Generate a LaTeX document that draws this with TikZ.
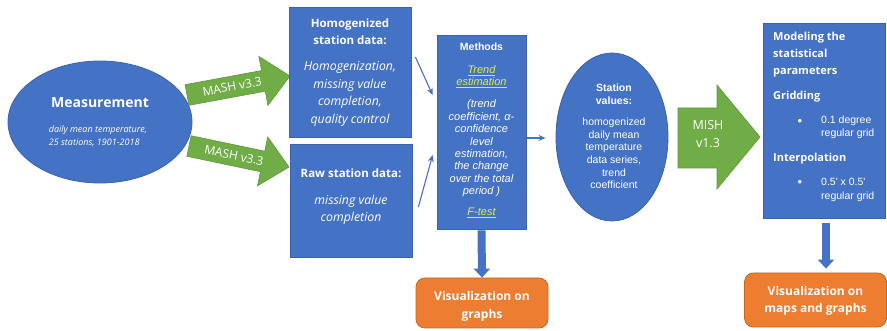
\documentclass[tikz,border=0pt]{standalone}
\usepackage{fontspec}
\setmainfont{Open Sans}
\newfontfamily\arialf{Liberation Sans}
\usetikzlibrary{shapes.geometric,arrows.meta,calc}
\definecolor{boxblue}{HTML}{4472C4}
\definecolor{boxedge}{HTML}{3A63AC}
\definecolor{arrgreen}{HTML}{70AD47}
\definecolor{arrgreenedge}{HTML}{5E9A3A}
\definecolor{vizorange}{HTML}{ED7D31}
\definecolor{vizedge}{HTML}{C9661F}
\definecolor{linkyellow}{HTML}{E4F03A}
\tikzset{
  bluebox/.style={draw=boxedge, fill=boxblue, line width=0.8pt, inner sep=0pt},
  wtxt/.style={text=white, inner sep=0pt, align=center},
  thinarrow/.style={draw=boxblue, line width=1.1pt, -{Stealth[length=7pt,width=6pt]}},
  greenarrow/.style={fill=arrgreen, draw=arrgreenedge, line width=0.6pt},
  blockdown/.style={draw=boxblue, line width=8pt, -{Triangle[length=9pt,width=16pt]}},
  vizbox/.style={draw=vizedge, fill=vizorange, rounded corners=9pt, line width=0.8pt, inner sep=0pt},
}
\begin{document}
\begin{tikzpicture}[x=1pt,y=-1pt]
\useasboundingbox (0,0) rectangle (887,331);
% Measurement
\node[ellipse, bluebox, minimum width=184pt, minimum height=122pt] (meas) at (100,122) {};
\node[wtxt, font=\bfseries\fontsize{14}{17}\selectfont] (meastitle) at (100,103) {Measurement};
\node[wtxt, align=left, font=\itshape\fontsize{9}{13}\selectfont] (measdesc) at (98,136) {daily mean temperature,\\25 stations, 1901-2018};
% green MASH arrows
\begin{scope}[shift={(187,95)}, rotate=10.45]
  \path[greenarrow] (0,-10.5) -- (77.7,-10.5) -- (77.7,-25) -- (104.7,0) -- (77.7,25) -- (77.7,10.5) -- (0,10.5) -- cycle;
  \node[wtxt, rotate=10.45, font=\fontsize{12}{14}\selectfont] (mash1) at (46,0) {MASH v3.3};
\end{scope}
\begin{scope}[shift={(189,146)}, rotate=-11.86]
  \path[greenarrow] (0,-10.5) -- (75.2,-10.5) -- (75.2,-25) -- (102.2,0) -- (75.2,25) -- (75.2,10.5) -- (0,10.5) -- cycle;
  \node[wtxt, rotate=-11.86, font=\fontsize{12}{14}\selectfont] (mash2) at (46,0) {MASH v3.3};
\end{scope}
% Homogenized box
\node[bluebox, minimum width=122pt, minimum height=130pt] (homog) at (350,72) {};
\node[wtxt, font=\bfseries\fontsize{11.5}{17}\selectfont] (homogtitle) at (350,32) {Homogenized\\station data:};
\node[wtxt, font=\itshape\fontsize{12.3}{17.5}\selectfont] (homogdesc) at (350,94) {Homogenization,\\missing value\\completion,\\quality control};
% Raw box
\node[bluebox, minimum width=122pt, minimum height=113pt] (raw) at (351,200.5) {};
\node[wtxt, font=\bfseries\fontsize{11.5}{17}\selectfont] (rawtitle) at (351,173) {Raw station data:};
\node[wtxt, font=\itshape\fontsize{12.3}{17.5}\selectfont] (rawdesc) at (351,210) {missing value\\completion};
% Methods box
\node[bluebox, minimum width=89pt, minimum height=194pt] (methods) at (481.5,132) {};
\node[wtxt, font=\arialf\bfseries\fontsize{10.5}{12}\selectfont] (methtitle) at (481.5,47) {Methods};
\node[wtxt, text=linkyellow, font=\arialf\itshape\fontsize{11}{12}\selectfont] (methtrend) at (481.5,77) {\underline{Trend}\\\underline{estimation}};
\node[wtxt, font=\arialf\itshape\fontsize{11}{12.4}\selectfont] (methdesc) at (481.5,148.5) {(trend\\coefficient, α-\\confidence\\level\\estimation,\\the change\\over the total\\period )};
\node[wtxt, text=linkyellow, font=\arialf\itshape\fontsize{11}{12}\selectfont] (methf) at (481.5,213) {\underline{F-test}};
% Station values ellipse
\node[ellipse, bluebox, minimum width=112pt, minimum height=168pt] (station) at (612,137) {};
\node[wtxt, font=\arialf\bfseries\fontsize{10.5}{12.5}\selectfont] (stattitle) at (614,94) {Station\\values:};
\node[wtxt, font=\arialf\fontsize{10.5}{12.6}\selectfont] (statdesc) at (614,153.5) {homogenized\\daily mean\\temperature\\data series,\\trend\\coefficient};
% MISH arrow
\path[greenarrow] (678,108) -- (717,108) -- (717,85) -- (760,137) -- (717,189) -- (717,168) -- (678,168) -- cycle;
\node[wtxt, font=\fontsize{12.5}{18}\selectfont] (mish) at (708,134.5) {MISH\\v1.3};
% Right box
\node[bluebox, minimum width=122pt, minimum height=195pt] (rbox) at (824,120.5) {};
\node[wtxt, anchor=west, align=left, font=\bfseries\fontsize{11}{17}\selectfont] (rtitle) at (773,55) {Modeling the\\statistical\\parameters};
\node[wtxt, anchor=west, font=\bfseries\fontsize{11}{13}\selectfont] (rgrid) at (773,97) {Gridding};
\node[wtxt, font=\arialf\fontsize{13}{14}\selectfont] (rbul1) at (800,122) {•};
\node[wtxt, anchor=west, align=left, font=\arialf\fontsize{10.5}{13}\selectfont] (rgriddesc) at (821,127.5) {0.1 degree\\regular grid};
\node[wtxt, anchor=west, font=\bfseries\fontsize{11}{13}\selectfont] (rinterp) at (773,159) {Interpolation};
\node[wtxt, font=\arialf\fontsize{13}{14}\selectfont] (rbul2) at (800,183) {•};
\node[wtxt, anchor=west, align=left, font=\arialf\fontsize{10.5}{14}\selectfont] (rinterpdesc) at (821,190) {0.5' x 0.5'\\regular grid};
% Visualization boxes
\node[vizbox, minimum width=132pt, minimum height=50pt] (viz1) at (482,303) {};
\node[wtxt, font=\bfseries\fontsize{12}{18}\selectfont] (viz1t) at (482,306) {Visualization on\\graphs};
\node[vizbox, minimum width=142pt, minimum height=54pt] (viz2) at (815.5,300) {};
\node[wtxt, font=\bfseries\fontsize{12}{17}\selectfont] (viz2t) at (815.5,301) {Visualization on\\maps and graphs};
% thin connectors
\draw[thinarrow] ([xshift=4pt,yshift=15pt]homog.east) -- ([xshift=-4pt,yshift=37pt]methods.west);
\draw[thinarrow] ([xshift=6pt,yshift=-6.5pt]raw.east) -- ([xshift=-4pt,yshift=-23pt]methods.west);
\draw[thinarrow] ([xshift=1pt,yshift=-6pt]methods.east) -- ([xshift=-10pt,yshift=-1pt]station.west);
% block down arrows
\draw[blockdown, shorten <=1pt] (methods.south) -- (viz1.north);
\draw[blockdown, shorten <=5pt, shorten >=4pt] ([xshift=2pt]rbox.south) -- ([xshift=2pt]rbox.south |- viz2.north);
\end{tikzpicture}
\end{document}
